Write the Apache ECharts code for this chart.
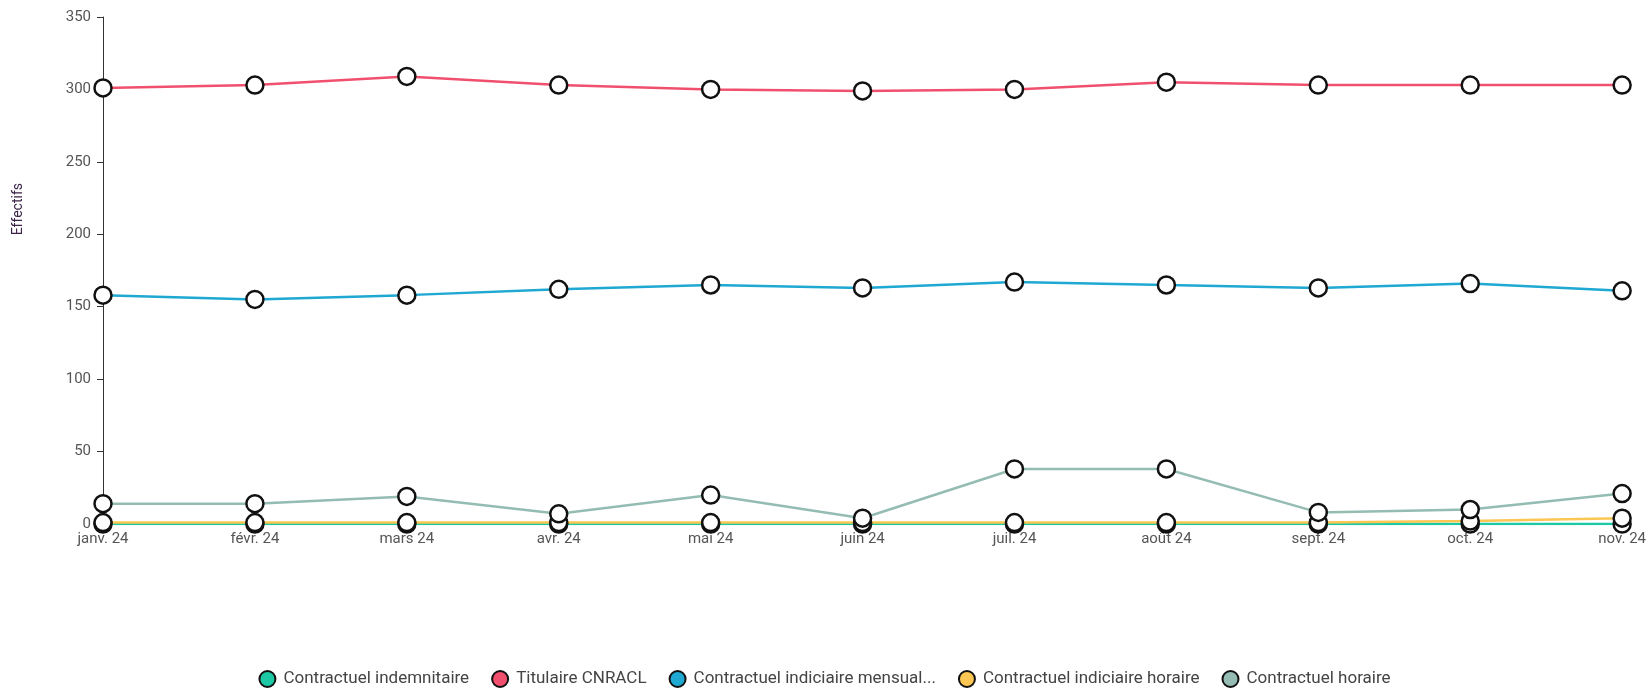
<!DOCTYPE html>
<html>
<head>
<meta charset="utf-8">
<script src="https://cdn.jsdelivr.net/npm/echarts@6/dist/echarts.min.js"></script>
<style>
  html, body { margin: 0; padding: 0; background: #fff; }
  #chart { width: 1649px; height: 689px; }
</style>
</head>
<body>
<div id="chart"></div>
<script>
  var months = ['janv. 24', 'févr. 24', 'mars 24', 'avr. 24', 'mai 24', 'juin 24',
                'juil. 24', 'août 24', 'sept. 24', 'oct. 24', 'nov. 24'];

  var indemnitaire = [0, 0, 0, 0, 0, 0, 0, 0, 0, 0, 0];
  var titulaire = [301, 303, 309, 303, 300, 299, 300, 305, 303, 303, 303];
  var mensuel = [158, 155, 158, 162, 165, 163, 167, 165, 163, 166, 161];
  var indHoraire = [1, 1, 1, 1, 1, 1, 1, 1, 1, 2, 4];
  var horaire = [14, 14, 19, 7, 20, 4, 38, 38, 8, 10, 21];

  var yTicks = [0, 50, 100, 150, 200, 250, 300, 350];

  var SERIES = [
    { name: 'Contractuel indemnitaire', color: '#1dc9a4', data: indemnitaire },
    { name: 'Titulaire CNRACL', color: '#f0506e', data: titulaire },
    { name: 'Contractuel indiciaire mensualisé', color: '#1ea8d2', data: mensuel },
    { name: 'Contractuel indiciaire horaire', color: '#fcc653', data: indHoraire },
    { name: 'Contractuel horaire', color: '#94bcb3', data: horaire }
  ];

  var chart = echarts.init(document.getElementById('chart'));

  var option = {
    backgroundColor: '#fff',
    animation: false,
    grid: { left: 103, right: 26, top: 17, bottom: 165 },
    legend: {
      top: 670,
      padding: 0,
      left: 'center',
      itemGap: 22,
      itemWidth: 16,
      itemHeight: 16,
      icon: 'circle',
      textStyle: { color: '#444', fontSize: 17, fontFamily: 'Roboto', padding: [0, 0, 0, 3] },
      formatter: function (n) {
        return n.length > 30 ? n.slice(0, 30) + '...' : n;
      },
      data: SERIES.map(function (s) {
        return { name: s.name, itemStyle: { color: s.color, borderColor: '#111', borderWidth: 2 } };
      })
    },
    graphic: [{
      type: 'text',
      left: 11,
      top: 183,
      rotation: Math.PI / 2,
      style: { text: 'Effectifs', fill: '#3b2347', fontSize: 14, fontFamily: 'Roboto' }
    }],
    xAxis: {
      type: 'category',
      data: months,
      boundaryGap: false,
      axisLine: { lineStyle: { color: '#333', width: 1 } },
      axisTick: { show: false },
      axisLabel: { color: '#555', fontSize: 15, fontFamily: 'Roboto', margin: 8 }
    },
    yAxis: {
      type: 'value',
      min: 0,
      max: 350,
      interval: 50,
      axisLine: { show: true, lineStyle: { color: '#333', width: 1 } },
      axisTick: { show: true, length: 6, lineStyle: { color: '#333' } },
      splitLine: { show: false },
      axisLabel: {
        color: '#555', fontSize: 15, fontFamily: 'Roboto', margin: 12,
        formatter: function (v) { return yTicks.indexOf(v) >= 0 ? String(v) : ''; }
      }
    },
    series: SERIES.map(function (s) {
      return {
        name: s.name,
        type: 'line',
        data: s.data,
        color: s.color,
        symbol: 'circle',
        symbolSize: 17,
        lineStyle: { color: s.color, width: 2.5 },
        itemStyle: { color: '#fff', borderColor: '#111', borderWidth: 2.5 },
        emphasis: { disabled: true }
      };
    })
  };

  chart.setOption(option);
</script>
</body>
</html>
